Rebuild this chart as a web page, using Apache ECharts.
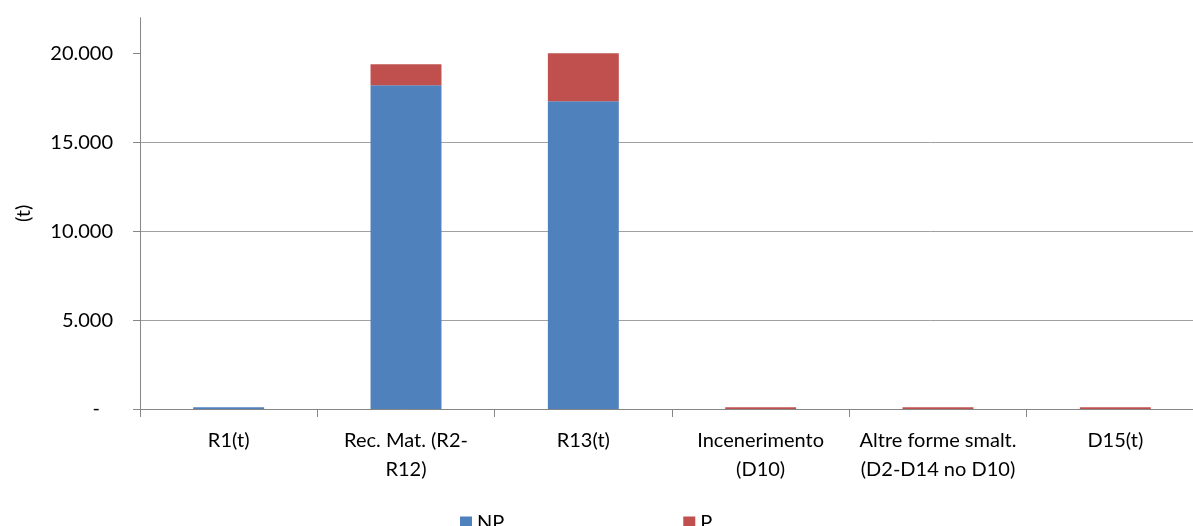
<!DOCTYPE html>
<html>
<head>
<meta charset="utf-8">
<script src="https://cdn.jsdelivr.net/npm/echarts@6/dist/echarts.min.js"></script>
<style>html,body{margin:0;padding:0;background:#fff;}#c{width:1193px;height:526px;}</style>
</head>
<body>
<div id="c"></div>
<script>
var categories = ['R1(t)', 'Rec. Mat. (R2-\nR12)', 'R13(t)', 'Incenerimento\n(D10)', 'Altre forme smalt.\n(D2-D14 no D10)', 'D15(t)'];
var npValues = [100, 18200, 17300, 0, 0, 0];
var pValues = [0, 1180, 2700, 100, 100, 100];
var yTicks = [0, 5000, 10000, 15000, 20000];

var chart = echarts.init(document.getElementById('c'), null, {renderer: 'canvas'});
var font = 'Lato, "Open Sans", sans-serif';
var fs = 20;
function fmt(v) {
  if (v === 0) return '{z|-}';
  return String(v).replace(/\B(?=(\d{3})+(?!\d))/g, '.');
}
chart.setOption({
  animation: false,
  backgroundColor: '#fff',
  grid: {left: 140, width: 1064, top: 17.7, bottom: 117, containLabel: false, outerBoundsMode: 'none'},
  legend: {
    data: ['NP', 'P'],
    left: 460, top: 512.5, padding: 0,
    itemWidth: 12, itemHeight: 12, itemGap: 179,
    icon: 'rect',
    textStyle: {fontFamily: font, fontSize: fs, color: '#000'}
  },
  xAxis: {
    type: 'category',
    data: categories,
    axisLine: {lineStyle: {color: '#868686', width: 1}},
    axisTick: {show: true, length: 8, lineStyle: {color: '#868686'}},
    axisLabel: {fontFamily: font, fontSize: fs, color: '#000', lineHeight: 29, margin: 17, interval: 0}
  },
  yAxis: {
    type: 'value',
    min: 0, max: 22000, interval: 5000,
    name: '(t)', nameLocation: 'middle', nameGap: 106, nameRotate: 90,
    nameTextStyle: {fontFamily: font, fontSize: fs, color: '#000'},
    axisLine: {show: true, lineStyle: {color: '#868686', width: 1}},
    axisTick: {show: true, length: 7, lineStyle: {color: '#868686'}, customValues: yTicks},
    axisLabel: {fontFamily: font, fontSize: fs, color: '#000', margin: 27, customValues: yTicks, formatter: fmt,
      rich: {z: {fontFamily: font, fontSize: fs, color: '#000', padding: [0, 13, 0, 0]}}},
    splitLine: {show: true, showMaxLine: false, lineStyle: {color: '#A0A0A0', width: 1}}
  },
  series: [
    {name: 'NP', type: 'bar', stack: 'a', data: npValues, barWidth: '40%', itemStyle: {color: '#4F81BD'}},
    {name: 'P', type: 'bar', stack: 'a', data: pValues, barWidth: '40%', itemStyle: {color: '#C0504D'}}
  ]
});
</script>
</body>
</html>
